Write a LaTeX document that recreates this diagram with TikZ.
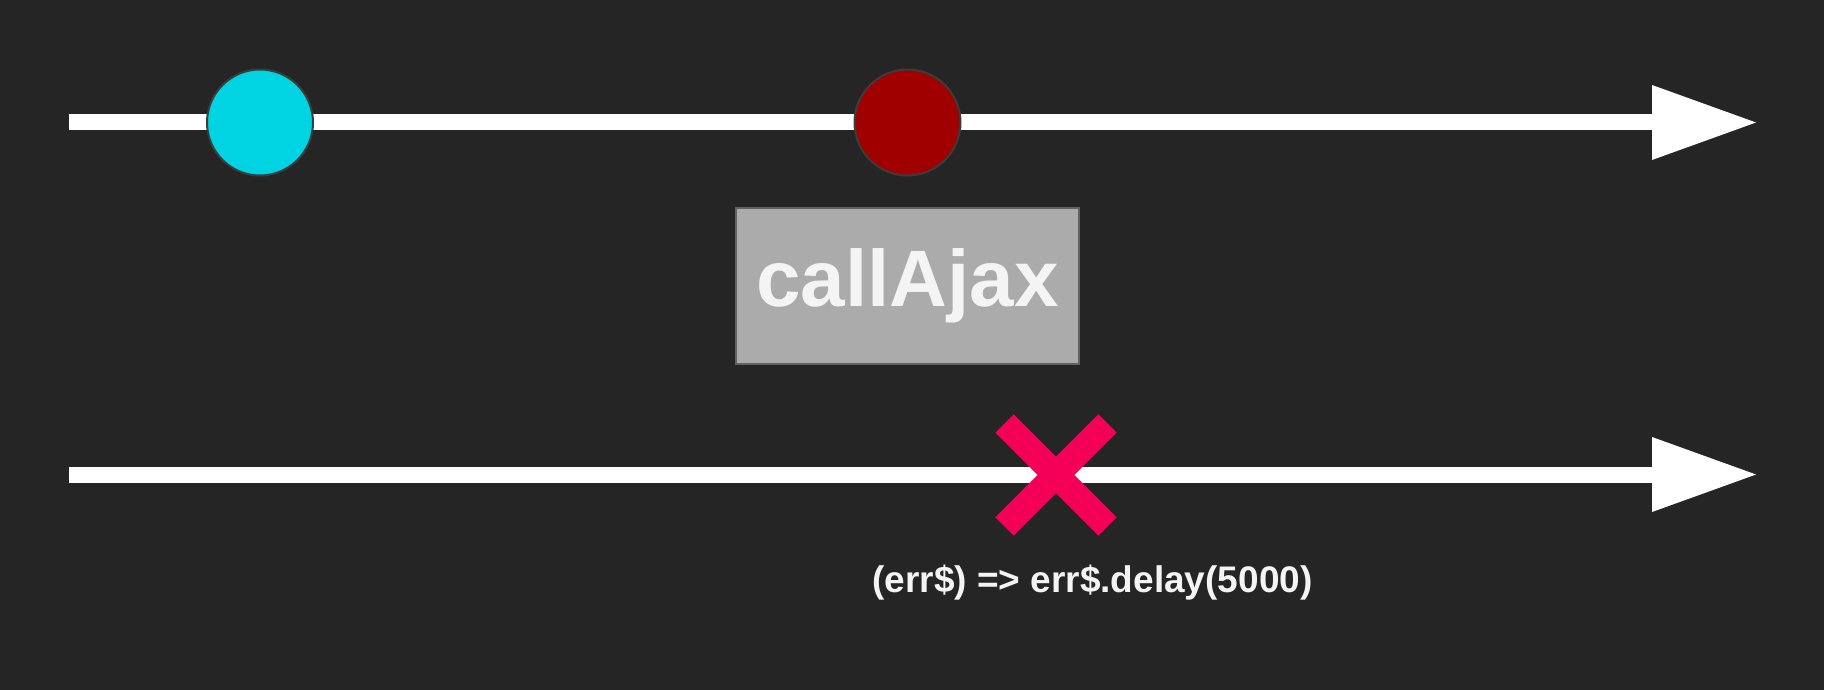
\documentclass[tikz,border=0pt]{standalone}
\usepackage{fontspec}
\setmainfont{Liberation Sans}
\usetikzlibrary{arrows.meta, positioning, shapes.misc}

\definecolor{bgdark}{HTML}{252525}
\definecolor{marblecyan}{HTML}{00D4E2}
\definecolor{marblered}{HTML}{A00000}
\definecolor{marbleedge}{HTML}{3C3C3C}
\definecolor{boxgray}{HTML}{ABABAB}
\definecolor{boxedge}{HTML}{616161}
\definecolor{errpink}{HTML}{F50057}
\definecolor{labelwhite}{HTML}{F4F4F4}

\begin{document}
\begin{tikzpicture}[
    x=1pt, y=-1pt,
    timeline/.style={draw=white, line width=16pt, -{Triangle[length=104pt, width=75pt, line width=0pt]}},
    marble/.style={circle, draw=marbleedge, line width=2pt, minimum size=106pt, inner sep=0pt},
    opbox/.style={rectangle, draw=boxedge, fill=boxgray, line width=2pt, minimum width=343pt, minimum height=156pt, text=labelwhite, font=\bfseries\fontsize{80}{96}\selectfont},
    errmark/.style={cross out, draw=errpink, line width=26pt, minimum size=103pt, inner sep=0pt, outer sep=0pt},
    note/.style={text=labelwhite, font=\bfseries\fontsize{37}{44}\selectfont, inner sep=0pt}
]

% Background
\fill[bgdark] (0,0) rectangle (1824,690);

% Timelines
\coordinate (in_start) at (68.5,122.5);
\coordinate (in_end) at (1756,122.5);
\coordinate (out_start) at (68.5,474.5);
\coordinate (out_end) at (1756,474.5);
\draw[timeline] (in_start) -- (in_end);
\draw[timeline] (out_start) -- (out_end);

% Input marbles
\node[marble, fill=marblecyan] (first) at (260,122.5) {};
\node[marble, fill=marblered] (ajaxdot) at (907.5,122.5) {};

% Operator
\node[opbox, below=30pt of ajaxdot] (op) {callAjax};

% Error on output
\node[errmark] (err) at (1056,475) {};

% Label
\node[note, anchor=base] (retry) at (1092.5,592) {(err\$) => err\$.delay(5000)};

\end{tikzpicture}
\end{document}
